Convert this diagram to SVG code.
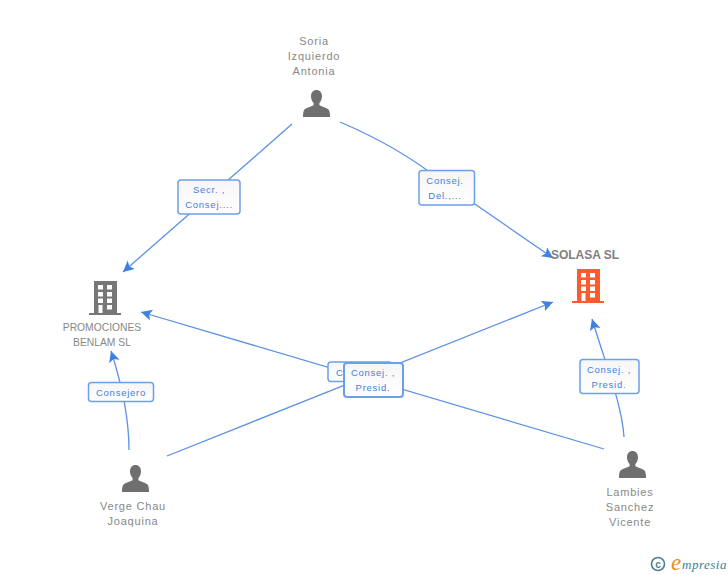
<svg xmlns="http://www.w3.org/2000/svg" width="728" height="575" viewBox="0 0 728 575">
<defs>
<marker id="arrow" markerUnits="userSpaceOnUse" markerWidth="13" markerHeight="13" refX="11" refY="5.500" orient="auto"><path d="M0 0L11 5.500L0 11L2.500 5.500Z" fill="#3f80e0"/></marker>
<symbol id="person" viewBox="0 0 27 27" overflow="visible"><path d="M13.500 0c-3.300 0-5.500 2.600-5.500 6.300 0 2.800 1 5.200 2.600 6.700v2.300C8 16.800 3.500 17.500 1.500 19.500.3 20.700 0 23.500 0 27h27c0-3.500-.3-6.300-1.500-7.500-2-2-6.500-2.700-9.100-4.200V13c1.600-1.500 2.600-3.900 2.600-6.700C19 2.600 16.800 0 13.500 0z" fill="#6f6f6f"/></symbol>
<symbol id="building" viewBox="0 0 32 34" overflow="visible"><path fill-rule="evenodd" d="M5 0H28V32H32V34H0V32H5ZM9 4V8.500H14V4ZM18 4V8.500H23V4ZM9 11V15.500H14V11ZM18 11V15.500H23V11ZM9 17.500V22H14V17.500ZM18 17.500V22H23V17.500ZM9.500 24V32H13.500V24ZM18 24V28.500H23V24Z"/></symbol>
<linearGradient id="boxfill" x1="0" y1="0" x2="0" y2="1"><stop offset="0" stop-color="#f6f6f6"/><stop offset="1" stop-color="#ffffff"/></linearGradient>
</defs>
<style>
.edge{fill:none;stroke:#5a90e6;stroke-width:1.300}
.box{fill:url(#boxfill);stroke:#6da0ea;stroke-width:1.500}
.lab{font:9.500px "Liberation Sans",Arial,sans-serif;fill:#3f80e0;letter-spacing:.75px;text-anchor:middle}
.nm{font:11px "Liberation Sans",Arial,sans-serif;fill:#888888;letter-spacing:.8px;text-anchor:middle}
.co{font:10.300px "Liberation Sans",Arial,sans-serif;fill:#888888;text-anchor:middle}
</style>
<g id="connectors">
<path class="edge" marker-end="url(#arrow)" d="M292 124L123 272"/>
<path class="edge" marker-end="url(#arrow)" d="M340 122C375 137 410 156 440 180L553 258"/>
<path class="edge" marker-end="url(#arrow)" d="M129 450C129 420 122 385 111 351"/>
<path class="edge" marker-end="url(#arrow)" d="M167 456L553 302"/>
<path class="edge" marker-end="url(#arrow)" d="M604 449L141 312"/>
<path class="edge" marker-end="url(#arrow)" d="M624 437C622 405 606 365 592 319"/>
</g>
<g id="edge-labels">
<g><rect class="box" x="178" y="180" width="62" height="34" rx="3"/><text class="lab" x="209" y="193">Secr. ,</text><text class="lab" x="209" y="208">Consej....</text></g>
<g><rect class="box" x="419" y="170.500" width="55.500" height="34.500" rx="3"/><text class="lab" x="445" y="184">Consej.</text><text class="lab" x="445" y="199">Del.,...</text></g>
<g><rect class="box" x="88.500" y="382.500" width="65" height="19" rx="3"/><text class="lab" x="121" y="395.500">Consejero</text></g>
<g><rect class="box" x="328" y="362" width="64" height="19.500" rx="3"/><text class="lab" x="361" y="375.500">Consejero</text></g>
<g><rect class="box" x="344" y="363" width="59" height="34" rx="3" style="stroke-width:2"/><text class="lab" x="373" y="376">Consej. ,</text><text class="lab" x="373" y="391">Presid.</text></g>
<g><rect class="box" x="580" y="359.500" width="59" height="34" rx="3"/><text class="lab" x="609" y="373">Consej. ,</text><text class="lab" x="609" y="388">Presid.</text></g>
</g>
<g id="soria"><use href="#person" x="303" y="90" width="27" height="27"/><text class="nm" x="314" y="45">Soria</text><text class="nm" x="314" y="60">Izquierdo</text><text class="nm" x="314" y="75">Antonia</text></g>
<g id="promociones"><use href="#building" x="89" y="281" width="32" height="34" fill="#777777"/><text class="co" x="102" y="331">PROMOCIONES</text><text class="co" x="102" y="346">BENLAM SL</text></g>
<g id="solasa"><use href="#building" x="572" y="269" width="32" height="34" fill="#ff5a2b"/><text x="585" y="258.500" style="font:bold 12px 'Liberation Sans',Arial,sans-serif;fill:#808080;text-anchor:middle">SOLASA SL</text></g>
<g id="verge"><use href="#person" x="122" y="465" width="27" height="27"/><text class="nm" x="133" y="510">Verge Chau</text><text class="nm" x="133" y="525">Joaquina</text></g>
<g id="lambies"><use href="#person" x="619" y="451" width="27" height="27"/><text class="nm" x="630" y="496">Lambies</text><text class="nm" x="630" y="511">Sanchez</text><text class="nm" x="630" y="526">Vicente</text></g>
<g id="credit"><circle cx="658" cy="564" r="6.500" fill="none" stroke="#4a7f96" stroke-width="1.600"/><text x="658" y="567.500" style="font:bold 10px 'Liberation Sans',sans-serif;fill:#4a7f96;text-anchor:middle">c</text><text x="671" y="570" style="font:italic 23px 'Liberation Serif',serif;fill:#f08a1d">e</text><text x="682" y="568.500" style="font:italic 13px 'Liberation Serif',serif;fill:#3f7f94;letter-spacing:.5px">mpresia</text></g>
</svg>
